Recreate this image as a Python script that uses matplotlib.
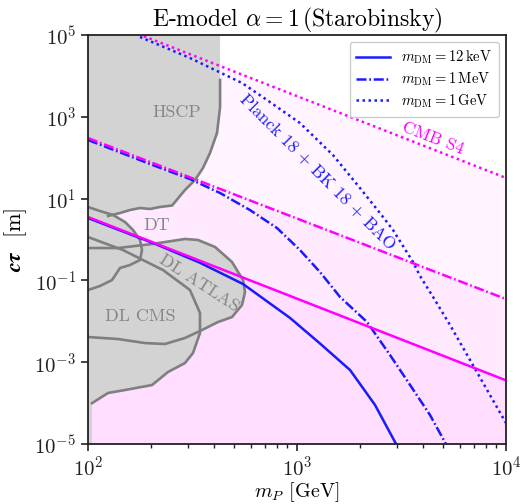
import numpy as np
import matplotlib
matplotlib.use("Agg")
import matplotlib.pyplot as plt
from matplotlib.ticker import NullLocator, LogLocator, FixedLocator

plt.rcParams['mathtext.fontset'] = 'cm'
plt.rcParams['font.family'] = 'serif'
plt.rcParams['font.serif'] = ['cmr10']
plt.rcParams['axes.formatter.use_mathtext'] = True
plt.rcParams['axes.unicode_minus'] = False

# ---------------- data ----------------
# magenta straight lines (CMB S4 projections), endpoints
mag_m = [1e2, 1e4]
mag_12keV = [3.55, 3.6e-4]
mag_1MeV = [302.0, 0.035]
mag_1GeV = [3.2e5, 32.0]

# blue curves (Planck 18 + BK 18 + BAO)
blue_12keV_m = [100, 213.8, 343.4, 551.8, 926, 1288, 1794, 2362, 2979]
blue_12keV_ct = [3.35, 0.75, 0.27, 0.0816, 0.0121, 0.00287, 0.000644, 9.0e-5, 1e-5]

blue_1MeV_m = [100, 198, 307.5, 428.5, 595, 802, 1033, 1288, 1607, 2163, 2786, 3476, 4329, 5159]
blue_1MeV_ct = [271, 70.1, 30.1, 13.7, 5.26, 1.91, 0.553, 0.160, 0.0393, 0.00962, 0.00150, 0.000277, 5.12e-5, 1e-5]

blue_1GeV_m = [177.4, 307.5, 545.8, 718, 1033, 1486, 2000, 2493, 2879, 3214, 3589, 3879, 4479, 5395, 6728, 8380, 10000]
blue_1GeV_ct = [89300, 27400, 6700, 2580, 705, 116, 18.2, 4.44, 1.71, 0.694, 0.282, 0.128, 0.0393, 0.00813, 0.00113, 0.000158, 3.26e-5]

# gray excluded regions
hscp_m = [100, 428.5, 428.5, 428.5, 414.3, 383.4, 354.9, 325, 291, 252.6, 221, 198, 177.4, 158.8, 142.3, 124.7, 111.6, 100]
hscp_ct = [1e5, 1e5, 7940, 1740, 402, 130, 56.0, 28.5, 16.2, 6.78, 6.24, 5.57, 5.89, 5.26, 4.44, 3.76, 3.36, 3.17]

dt_m = [100, 114, 131.8, 150.3, 164.2, 177.4, 181.3, 177.4, 158.8, 142.3, 130.3, 114, 100]
dt_ct = [6.24, 4.97, 3.97, 2.68, 1.71, 0.973, 0.553, 0.316, 0.238, 0.201, 0.102, 0.0729, 0.0582]

atlas_m = [100, 139.2, 202.5, 291, 335.9, 405.4, 488.6, 551.8, 564, 545.8, 488.6, 418.8, 351, 291, 233.5, 187.4, 139.2, 100]
atlas_ct = [0.619, 0.619, 0.776, 1.03, 0.973, 0.656, 0.282, 0.102, 0.0520, 0.0251, 0.0127, 0.00962, 0.00612, 0.00391, 0.00279, 0.00294, 0.00369, 0.00413]

cms_m = [100, 146.9, 228.5, 307.5, 343.4, 343.4, 318, 291, 241.3, 202.5, 150.3, 124.7, 104.5, 104.5, 100]
cms_ct = [1.15, 0.553, 0.179, 0.0582, 0.0160, 0.00518, 0.00168, 0.000955, 0.000575, 0.000277, 0.000209, 0.000177, 0.0001, 1e-5, 1e-5]

legend_labels = [r'$m_{\rm DM} = 12\,{\rm keV}$', r'$m_{\rm DM} = 1\,{\rm MeV}$', r'$m_{\rm DM} = 1\,{\rm GeV}$']

# ---------------- figure ----------------
fig = plt.figure(figsize=(5.26, 5.04), dpi=100)
ax = fig.add_axes([0.1673, 0.119, 0.962 - 0.1673, 0.9306 - 0.119])
ax.set_xscale('log')
ax.set_yscale('log')
ax.set_xlim(1e2, 1e4)
ax.set_ylim(1e-5, 1e5)

MAG = '#ff00ff'
BLUE = '#1a1aff'
GRAYF = '#d3d3d3'
GRAYE = '#7f7f7f'
lw = 1.8
dashdot = (0, (4.0, 1.1, 0.7, 1.1))
dotted = (0, (1.0, 1.4))

# magenta shaded regions
for yv in (mag_1GeV, mag_1MeV, mag_12keV):
    ax.fill_between(mag_m, yv, 1e-6, color=MAG, alpha=0.045, lw=0, zorder=0.5)

# gray regions
for mm, cc in ((hscp_m, hscp_ct), (dt_m, dt_ct), (atlas_m, atlas_ct), (cms_m, cms_ct)):
    ax.fill(mm, cc, color=GRAYF, lw=0, zorder=1)
ax.plot(hscp_m[2:-2], hscp_ct[2:-2], color=GRAYE, lw=1.9, zorder=1.2)
ax.plot(dt_m, dt_ct, color=GRAYE, lw=1.9, zorder=1.2)
ax.plot(atlas_m, atlas_ct, color=GRAYE, lw=1.9, zorder=1.2)
ax.plot(cms_m[:-2], cms_ct[:-2], color=GRAYE, lw=1.9, zorder=1.2)

# blue lines
l1, = ax.plot(blue_12keV_m, blue_12keV_ct, color=BLUE, lw=lw, zorder=2)
l2, = ax.plot(blue_1MeV_m, blue_1MeV_ct, color=BLUE, lw=lw, ls=dashdot, zorder=2)
l3, = ax.plot(blue_1GeV_m, blue_1GeV_ct, color=BLUE, lw=lw, ls=dotted, zorder=2)

# magenta lines
ax.plot(mag_m, mag_12keV, color=MAG, lw=lw, zorder=2.1)
ax.plot(mag_m, mag_1MeV, color=MAG, lw=lw, ls=dashdot, zorder=2.1)
ax.plot(mag_m, mag_1GeV, color=MAG, lw=lw, ls=dotted, zorder=2.1)

leg = ax.legend([l1, l2, l3], legend_labels, loc='upper right', fontsize=10.5,
                frameon=True, fancybox=True, framealpha=1, edgecolor='#cccccc',
                handlelength=2.3, borderpad=0.45, labelspacing=0.3)
leg.set_zorder(5)

# text labels
tc = '#858585'
ax.text(267, 1310, 'HSCP', color=tc, fontsize=13, ha='center', va='center', zorder=3)
ax.text(213.8, 2.26, 'DT', color=tc, fontsize=13, ha='center', va='center', zorder=3)
ax.text(177.4, 0.0135, 'DL CMS', color=tc, fontsize=13, ha='center', va='center', zorder=3)
ax.text(340, 0.0863, 'DL ATLAS', color=tc, fontsize=13, ha='center', va='center', rotation=-33, zorder=3)
ax.text(4479, 303, 'CMB S4', color=MAG, fontsize=12.5, ha='center', va='center', rotation=-21, zorder=3)
ax.text(1259, 44.7, 'Planck 18 + BK 18 + BAO', color=BLUE, fontsize=12.5, ha='center', va='center', rotation=-45, zorder=3)

# axes styling
ax.set_title(r'E-model $\alpha = 1\,$(Starobinsky)', fontsize=17, pad=3)
ax.set_xlabel(r'$\boldsymbol{m_P}$ [GeV]', fontsize=14.5, labelpad=0)
ax.set_ylabel(r'$\boldsymbol{c\tau}$  [m]', fontsize=16, labelpad=4)

ax.yaxis.set_major_locator(FixedLocator([1e-5, 1e-3, 1e-1, 1e1, 1e3, 1e5]))
ax.yaxis.set_minor_locator(NullLocator())
ax.xaxis.set_major_locator(FixedLocator([1e2, 1e3, 1e4]))
ax.xaxis.set_minor_locator(LogLocator(base=10, subs=np.arange(2, 10)))
ax.tick_params(axis='both', which='major', labelsize=15, length=5, width=1.2, direction='out', colors='#222222', labelcolor='#222222')
ax.tick_params(axis='x', which='minor', length=3, width=1.0, direction='out', colors='#222222')
for s in ax.spines.values():
    s.set_linewidth(1.3)
    s.set_color('#222222')

fig.savefig('out.png', dpi=100)
